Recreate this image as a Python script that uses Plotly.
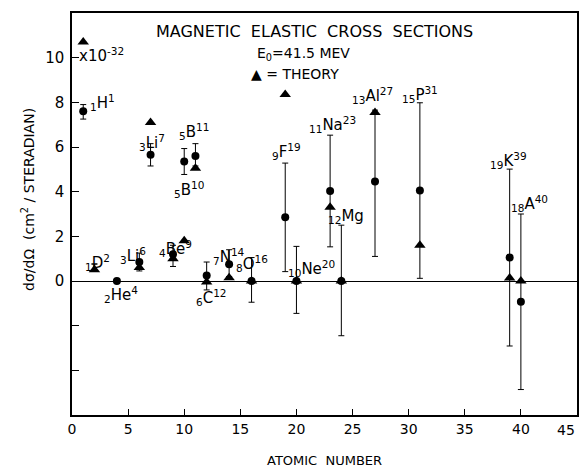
import plotly.graph_objects as go

# Measured cross sections (x = mass number on the "atomic number" axis)
meas_x = [1, 4, 6, 7, 9, 10, 11, 12, 14, 16, 19, 20, 23, 24, 27, 31, 39, 40]
meas_y = [7.6, 0.0, 0.85, 5.65, 1.2, 5.35, 5.6, 0.25, 0.75, 0.0, 2.85, 0.0, 4.03, 0.0, 4.45, 4.05, 1.05, -0.93]
meas_up = [0.3, 0.0, 0.4, 0.5, 0.4, 0.58, 0.55, 0.6, 0.65, 1.05, 2.43, 1.55, 2.5, 2.5, 3.2, 3.93, 3.96, 3.93]
meas_dn = [0.35, 0.0, 0.4, 0.5, 0.55, 0.58, 0.45, 0.65, 0.55, 0.95, 2.43, 1.45, 2.5, 2.45, 3.35, 3.93, 3.96, 3.93]

# Deuteron: error bar only
d_x = [2]
d_y = [0.62]
d_err = [0.14]

# Theory values
theo_x = [1, 2, 6, 7, 9, 10, 11, 12, 14, 16, 19, 20, 23, 24, 27, 31, 39, 40]
theo_y = [10.7, 0.5, 0.6, 7.1, 1.0, 1.8, 5.05, -0.05, 0.15, 0.0, 8.35, 0.0, 3.3, 0.0, 7.55, 1.6, 0.13, 0.0]

# Nucleus labels
lab_text = ["<sub>1</sub>H<sup>1</sup>", "<sub>1</sub>D<sup>2</sup>", "<sub>2</sub>He<sup>4</sup>",
            "<sub>3</sub>Li<sup>6</sup>", "<sub>3</sub>Li<sup>7</sup>", "<sub>4</sub>Be<sup>9</sup>",
            "<sub>5</sub>B<sup>11</sup>", "<sub>5</sub>B<sup>10</sup>", "<sub>6</sub>C<sup>12</sup>",
            "<sub>7</sub>N<sup>14</sup>", "<sub>8</sub>O<sup>16</sup>", "<sub>9</sub>F<sup>19</sup>",
            "<sub>10</sub>Ne<sup>20</sup>", "<sub>11</sub>Na<sup>23</sup>", "<sub>12</sub>Mg",
            "<sub>13</sub>Al<sup>27</sup>", "<sub>15</sub>P<sup>31</sup>", "<sub>19</sub>K<sup>39</sup>",
            "<sub>18</sub>A<sup>40</sup>"]
lab_x = [2.7, 2.3, 4.4, 5.4, 7.1, 9.2, 10.9, 10.4, 12.4, 14.0, 16.0, 19.1, 21.3, 23.2, 24.4, 26.8, 31.0, 38.9, 40.8]
lab_y = [8.0, 0.85, -0.6, 1.15, 6.2, 1.45, 6.7, 4.1, -0.75, 1.1, 0.8, 5.8, 0.55, 7.0, 2.9, 8.3, 8.35, 5.4, 3.45]

x_ticks = [0, 5, 10, 15, 20, 25, 30, 35, 40, 45]
x_tick_text = ["0", "5", "10", "15", "20", "25", "30", "35", "40", ""]
x_last_label = "45"
y_ticks = [-4, -2, 0, 2, 4, 6, 8, 10]
y_tick_text = ["", "", "0", "2", "4", "6", "8", "10"]

FONT = "DejaVu Sans"

fig = go.Figure()
fig.add_trace(go.Scatter(
    x=meas_x, y=meas_y, mode="markers",
    marker=dict(symbol="circle", size=8, color="black"),
    error_y=dict(type="data", symmetric=False, array=meas_up, arrayminus=meas_dn,
                 color="black", thickness=1, width=3),
    showlegend=False, hoverinfo="skip"))
fig.add_trace(go.Scatter(
    x=d_x, y=d_y, mode="markers",
    marker=dict(size=1, color="black"),
    error_y=dict(type="data", array=d_err, color="black", thickness=1.5, width=3),
    showlegend=False, hoverinfo="skip"))
fig.add_trace(go.Scatter(
    x=theo_x, y=theo_y, mode="markers",
    marker=dict(symbol="triangle-up", size=10, color="black"),
    showlegend=False, hoverinfo="skip"))

for t, x, y in zip(lab_text, lab_x, lab_y):
    fig.add_annotation(x=x, y=y, text=t, showarrow=False,
                       font=dict(family=FONT, size=15, color="#000000"))

fig.add_annotation(x=2.6, y=10.1, text="x10<sup>-32</sup>", showarrow=False,
                   font=dict(family=FONT, size=15, color="#000000"))
fig.add_annotation(x=21.6, y=11.15, text="MAGNETIC  ELASTIC  CROSS  SECTIONS", showarrow=False,
                   font=dict(family=FONT, size=16, color="#000000"))
fig.add_annotation(x=20.6, y=10.18, text="E<sub>0</sub>=41.5 MEV", showarrow=False,
                   font=dict(family=FONT, size=14, color="#000000"))
fig.add_annotation(x=19.9, y=9.25, text="▲ = THEORY", showarrow=False,
                   font=dict(family=FONT, size=14, color="#000000"))

# last x tick label, kept inside the page like in the original
fig.add_annotation(x=45, y=0, xref="x", yref="paper", xanchor="right", yanchor="top",
                   yshift=-5, text=x_last_label, showarrow=False,
                   font=dict(family=FONT, size=14, color="#000000"))

fig.add_annotation(xref="paper", yref="paper", x=0.5, y=0, yanchor="top", yshift=-36,
                   text="ATOMIC  NUMBER", showarrow=False,
                   font=dict(family=FONT, size=13, color="#000000"))
fig.add_annotation(xref="paper", yref="paper", x=0, y=0.535, xanchor="center", xshift=-44,
                   textangle=-90, text="dσ/dΩ  (cm<sup>2</sup> / STERADIAN)", showarrow=False,
                   font=dict(family=FONT, size=14, color="#000000"))

fig.update_layout(
    width=581, height=469,
    margin=dict(l=72, r=4, t=13, b=54, autoexpand=False),
    paper_bgcolor="white", plot_bgcolor="white",
    font=dict(family=FONT, color="black"),
    hovermode=False,
)
fig.update_xaxes(range=[0, 45], tickvals=x_ticks, ticktext=x_tick_text, ticks="inside", ticklen=6,
                 showline=True, linecolor="black", linewidth=1.5, mirror=True, automargin=False,
                 showgrid=False, zeroline=False, tickfont=dict(size=14, family=FONT),
                 tickcolor="black")
fig.update_yaxes(range=[-6, 12], tickvals=y_ticks, ticktext=y_tick_text, ticks="inside", ticklen=7,
                 showline=True, linecolor="black", linewidth=1.5, mirror=True, automargin=False,
                 showgrid=False, zeroline=True, zerolinecolor="black", zerolinewidth=1,
                 tickfont=dict(size=15, family=FONT), tickcolor="black", ticklabelstandoff=3)

fig.write_html("out.html", config={"displayModeBar": False},
               post_script="document.body.style.margin='0px';")
